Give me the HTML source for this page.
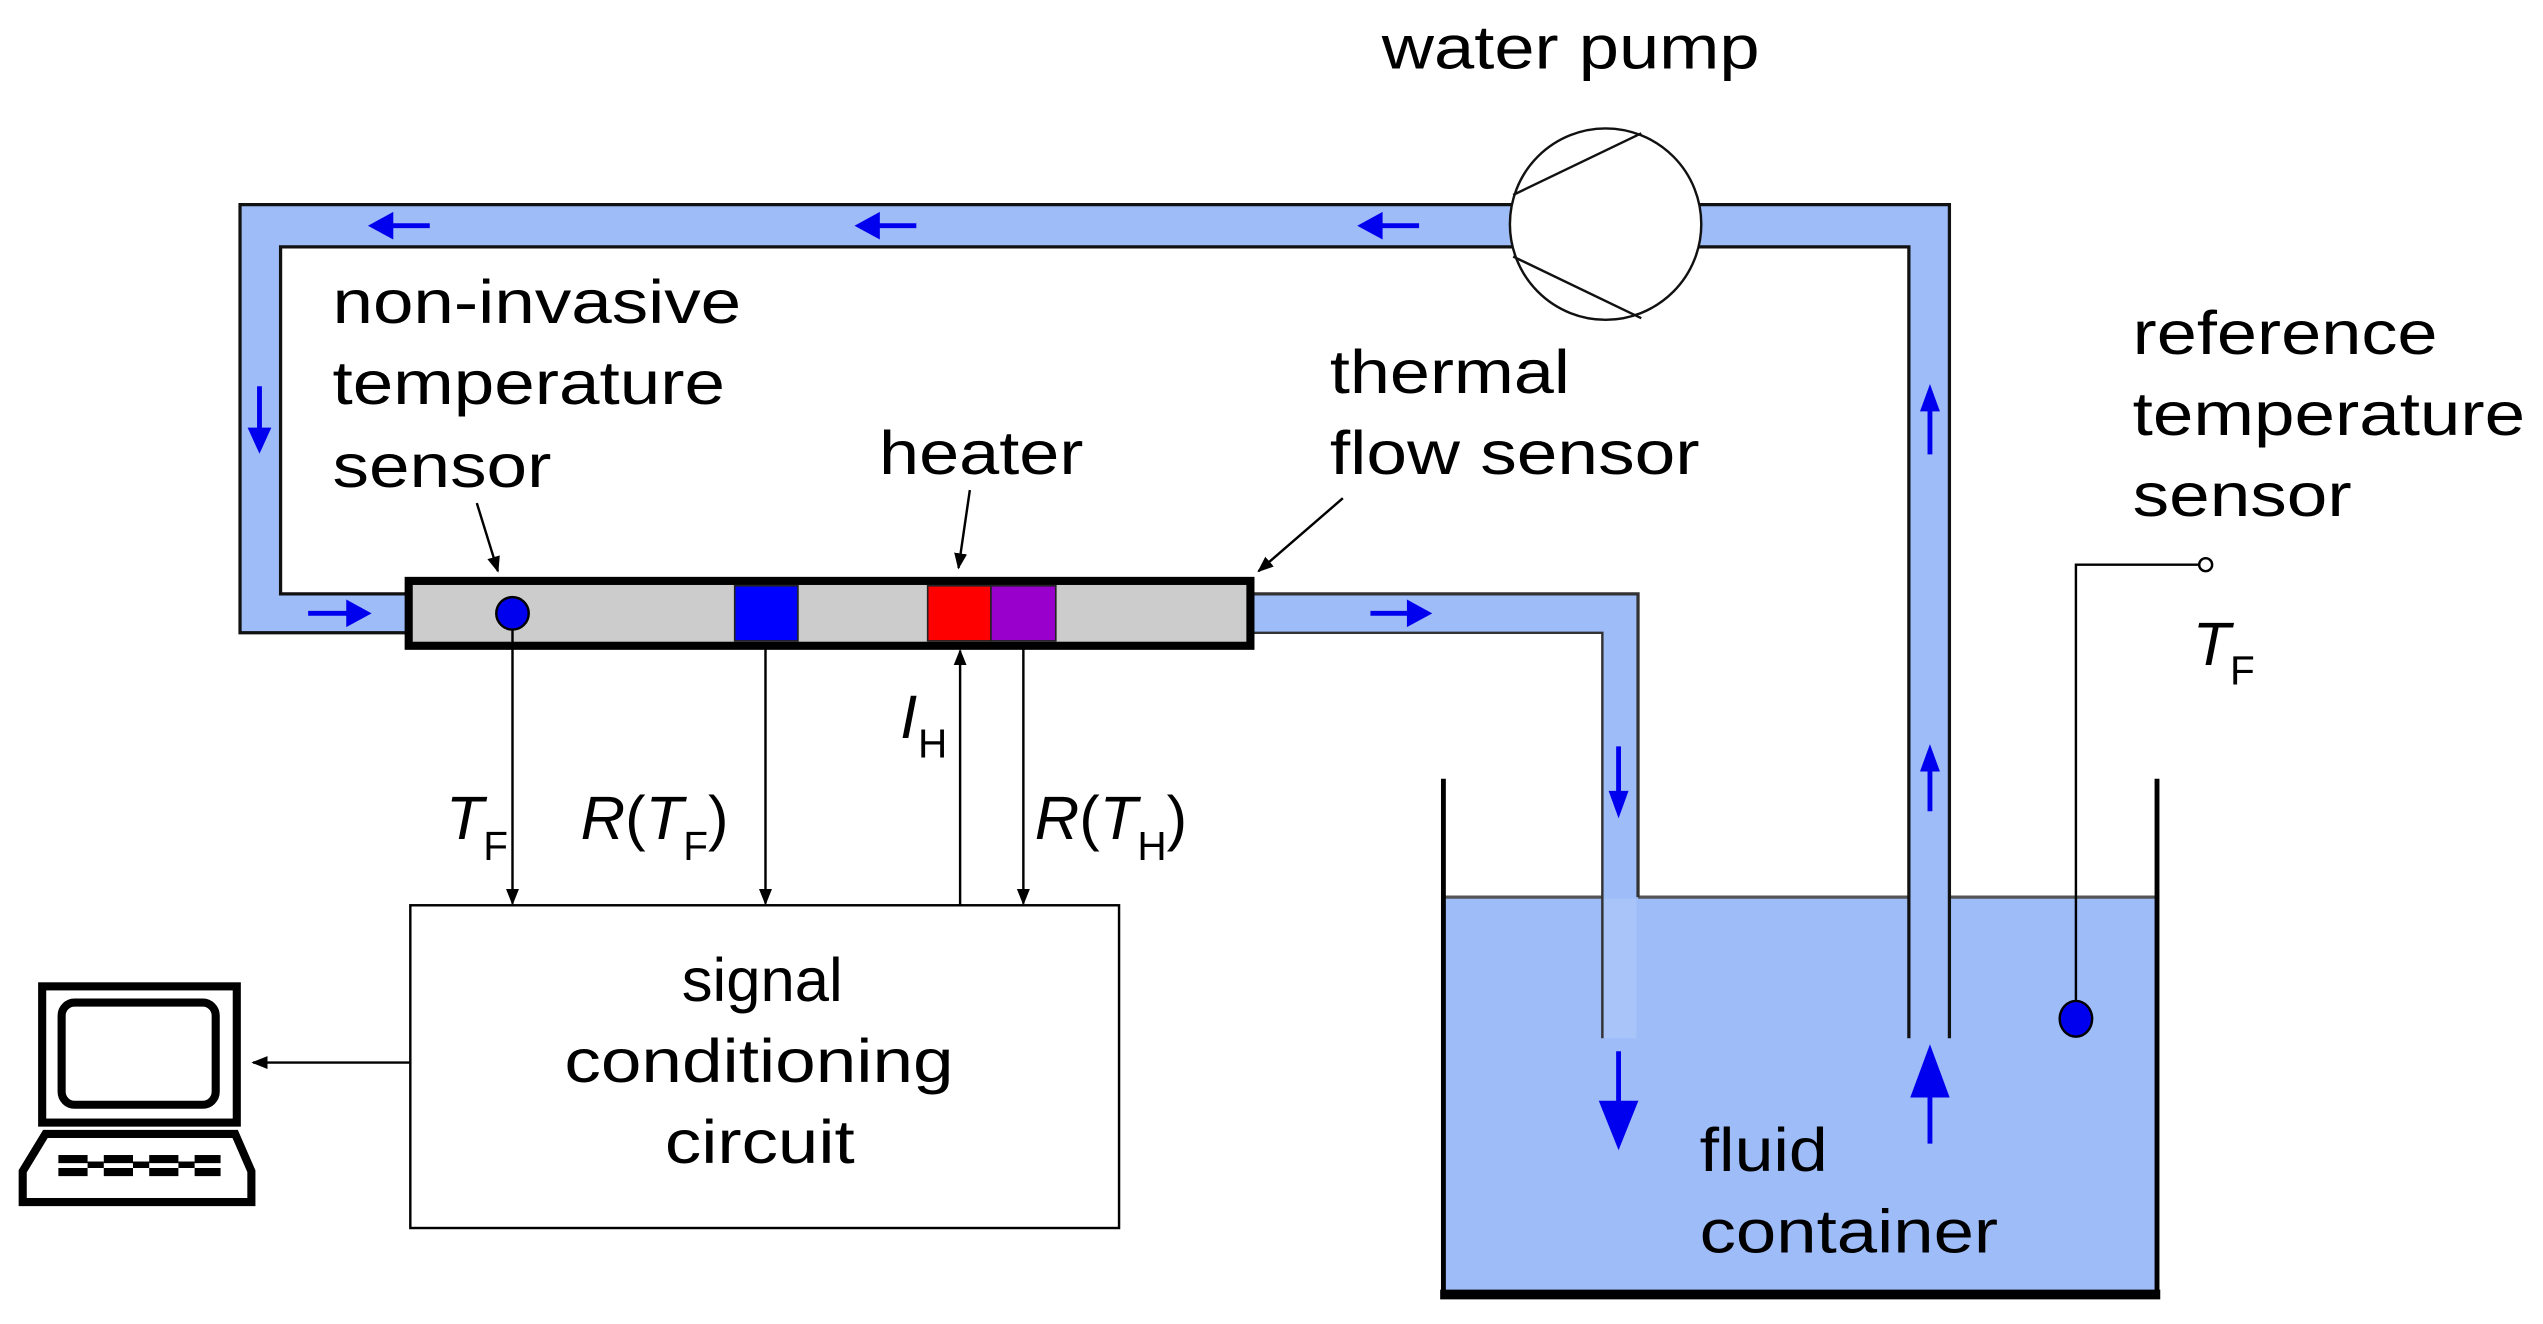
<!DOCTYPE html>
<html><head><style>html,body{margin:0;padding:0;background:#fff}svg{display:block}</style></head>
<body>
<svg width="2543" height="1324" viewBox="0 0 1568 816" xmlns="http://www.w3.org/2000/svg" font-family="Liberation Sans, Arial, sans-serif">
<defs>
<marker id="ak" markerWidth="10" markerHeight="10" refX="9" refY="5" orient="auto" markerUnits="userSpaceOnUse"><path d="M0,1 L10,5 L0,9 Z" fill="#000"/></marker>
</defs>
<rect width="1568" height="816" fill="#fff"/>
<rect x="890" y="553" width="440" height="245" fill="#9dbcf8"/>
<line x1="890" y1="553" x2="988" y2="553" stroke="#555" stroke-width="2"/>
<line x1="1010" y1="553" x2="1177" y2="553" stroke="#555" stroke-width="2"/>
<line x1="1202" y1="553" x2="1330" y2="553" stroke="#555" stroke-width="2"/>
<path d="M148,126 H1202 V640 H1177 V152 H173 V366 H250 V390 H148 Z" fill="#9dbcf8"/>
<path d="M772,366 H1010 V640 H988 V390 H772 Z" fill="#9dbcf8"/>
<rect x="989" y="554" width="20" height="86" fill="#a9c4f8"/>
<path d="M250,390 H148 V126 H1202 V640" fill="none" stroke="#111" stroke-width="2"/>
<path d="M250,366 H173 V152 H1177 V640" fill="none" stroke="#111" stroke-width="2"/>
<path d="M772,366 H1010 V553" fill="none" stroke="#333" stroke-width="2"/>
<path d="M772,390 H988 V640" fill="none" stroke="#333" stroke-width="1.5"/>
<circle cx="990" cy="138" r="59" fill="#fff" stroke="#111" stroke-width="1.5"/>
<line x1="933" y1="120" x2="1012" y2="82" stroke="#111" stroke-width="1.5"/>
<line x1="933" y1="158" x2="1012" y2="196" stroke="#111" stroke-width="1.5"/>
<path d="M890,480 V798 H1330 V480" fill="none" stroke="#000" stroke-width="3"/>
<line x1="888" y1="798" x2="1332" y2="798" stroke="#000" stroke-width="6"/>
<g stroke="#0000ee" stroke-width="3" fill="#0000ee">
<line x1="265" y1="139" x2="238" y2="139"/><path d="M230,139 L241,133 L241,145 Z"/>
<line x1="565" y1="139" x2="538" y2="139"/><path d="M530,139 L541,133 L541,145 Z"/>
<line x1="875" y1="139" x2="848" y2="139"/><path d="M840,139 L851,133 L851,145 Z"/>
<line x1="160" y1="238" x2="160" y2="268"/><path d="M160,276 L155,265 L165,265 Z"/>
<line x1="190" y1="378" x2="218" y2="378"/><path d="M226,378 L215,372 L215,384 Z"/>
<line x1="845" y1="378" x2="872" y2="378"/><path d="M880,378 L869,372 L869,384 Z"/>
<line x1="998" y1="460" x2="998" y2="492"/><path d="M998,500 L994,489 L1002,489 Z"/>
<line x1="1190" y1="280" x2="1190" y2="250"/><path d="M1190,241 L1186,252 L1194,252 Z"/>
<line x1="1190" y1="500" x2="1190" y2="472"/><path d="M1190,463 L1186,474 L1194,474 Z"/>
<line x1="998" y1="648" x2="998" y2="680"/><path d="M998,705 L988,680 L1008,680 Z"/>
<line x1="1190" y1="705" x2="1190" y2="675"/><path d="M1190,648 L1180,675 L1200,675 Z"/>
</g>
<rect x="252" y="358" width="519" height="40" fill="#ccc" stroke="#000" stroke-width="5"/>
<rect x="453" y="361" width="39" height="34" fill="#0000ff" stroke="#222" stroke-width="1"/>
<rect x="572" y="361" width="39" height="34" fill="#ff0000" stroke="#222" stroke-width="1"/>
<rect x="611" y="361" width="40" height="34" fill="#9900cc" stroke="#222" stroke-width="1"/>
<circle cx="316" cy="378" r="10" fill="#0000ee" stroke="#000" stroke-width="1.5"/>
<path d="M1280,622 V348 H1356" fill="none" stroke="#000" stroke-width="1.5"/>
<circle cx="1360" cy="348" r="4" fill="#fff" stroke="#000" stroke-width="1.5"/>
<ellipse cx="1280" cy="628" rx="10" ry="11" fill="#0000ee" stroke="#000" stroke-width="1.5"/>
<rect x="253" y="558" width="437" height="199" fill="#fff" stroke="#000" stroke-width="1.5"/>
<g stroke="#000" stroke-width="1.5">
<line x1="316" y1="388" x2="316" y2="557" marker-end="url(#ak)"/>
<line x1="472" y1="398" x2="472" y2="557" marker-end="url(#ak)"/>
<line x1="592" y1="558" x2="592" y2="401" marker-end="url(#ak)"/>
<line x1="631" y1="398" x2="631" y2="557" marker-end="url(#ak)"/>
<line x1="253" y1="655" x2="156" y2="655" marker-end="url(#ak)"/>
<line x1="294" y1="310" x2="307" y2="352" marker-end="url(#ak)"/>
<line x1="598" y1="302" x2="591" y2="350" marker-end="url(#ak)"/>
<line x1="828" y1="307" x2="776" y2="352" marker-end="url(#ak)"/>
</g>
<rect x="26" y="608" width="120" height="84" fill="#fff" stroke="#000" stroke-width="5"/>
<rect x="38" y="618" width="95" height="63" rx="8" fill="#fff" stroke="#000" stroke-width="5"/>
<path d="M28,699 H145 L155,722 V741 H14 V722 Z" fill="#fff" stroke="#000" stroke-width="5"/>
<g fill="#000"><rect x="36" y="712" width="18" height="5"/><rect x="36" y="720" width="18" height="5"/><rect x="54" y="716" width="10" height="4"/>
<rect x="64" y="712" width="18" height="5"/><rect x="64" y="720" width="18" height="5"/><rect x="82" y="716" width="10" height="4"/>
<rect x="92" y="712" width="18" height="5"/><rect x="92" y="720" width="18" height="5"/><rect x="110" y="716" width="10" height="4"/>
<rect x="120" y="712" width="16" height="5"/><rect x="120" y="720" width="16" height="5"/></g>
<g font-size="38" fill="#000">
<text x="852" y="42" textLength="233" lengthAdjust="spacingAndGlyphs">water pump</text>
<text x="205" y="199" textLength="252" lengthAdjust="spacingAndGlyphs">non-invasive</text>
<text x="205" y="249" textLength="242" lengthAdjust="spacingAndGlyphs">temperature</text>
<text x="205" y="300" textLength="135" lengthAdjust="spacingAndGlyphs">sensor</text>
<text x="542" y="292" textLength="126" lengthAdjust="spacingAndGlyphs">heater</text>
<text x="820" y="242" textLength="148" lengthAdjust="spacingAndGlyphs">thermal</text>
<text x="820" y="292" textLength="228" lengthAdjust="spacingAndGlyphs">flow sensor</text>
<text x="1315" y="218" textLength="188" lengthAdjust="spacingAndGlyphs">reference</text>
<text x="1315" y="268" textLength="242" lengthAdjust="spacingAndGlyphs">temperature</text>
<text x="1315" y="318" textLength="135" lengthAdjust="spacingAndGlyphs">sensor</text>
<text x="470" y="617" text-anchor="middle">signal</text>
<text x="348" y="667" textLength="240" lengthAdjust="spacingAndGlyphs">conditioning</text>
<text x="410" y="717" textLength="117" lengthAdjust="spacingAndGlyphs">circuit</text>
<text x="1048" y="722" textLength="79" lengthAdjust="spacingAndGlyphs">fluid</text>
<text x="1048" y="772" textLength="184" lengthAdjust="spacingAndGlyphs">container</text>
<text x="275" y="517" font-style="italic">T</text><text x="298" y="530" font-size="25">F</text>
<text x="358" y="517"><tspan font-style="italic">R</tspan>(<tspan font-style="italic">T</tspan><tspan font-size="25" dy="13">F</tspan><tspan dy="-13">)</tspan></text>
<text x="638" y="517"><tspan font-style="italic">R</tspan>(<tspan font-style="italic">T</tspan><tspan font-size="25" dy="13">H</tspan><tspan dy="-13">)</tspan></text>
<text x="555" y="455" font-style="italic">I</text><text x="566" y="467" font-size="25">H</text>
<text x="1352" y="410" font-style="italic">T</text><text x="1375" y="422" font-size="25">F</text>
</g>
</svg>
</body></html>
